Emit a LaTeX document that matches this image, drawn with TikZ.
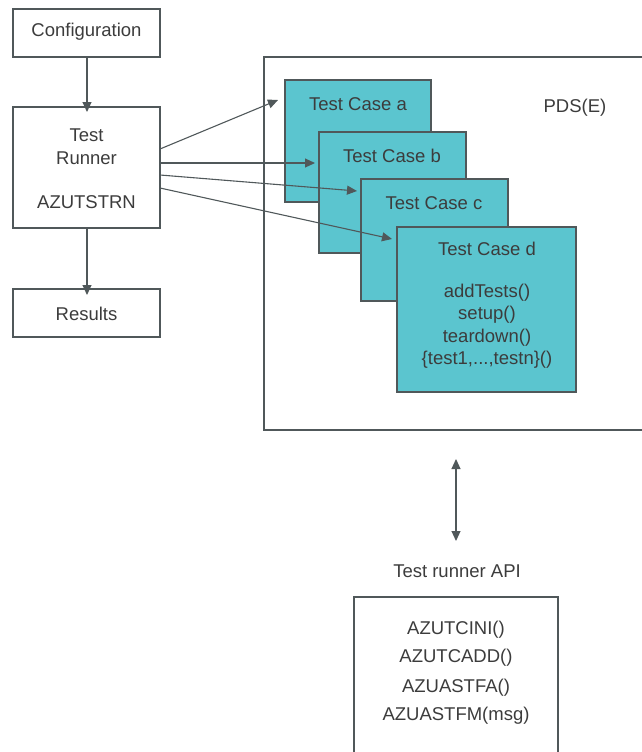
\documentclass[tikz,border=0pt]{standalone}
\usepackage{fontspec}
\setmainfont{Liberation Sans}
\usetikzlibrary{arrows.meta}
\definecolor{tcfill}{HTML}{5BC5CF}
\definecolor{lncol}{HTML}{50585A}
\definecolor{txcol}{HTML}{3C3C3C}
\begin{document}
\begin{tikzpicture}[x=1pt,y=-1pt,
  font=\fontsize{18.5}{22.5}\selectfont,
  every node/.style={text=txcol},
  plainbox/.style={draw=lncol,line width=1.2pt,fill=white},
  casebox/.style={draw=lncol,line width=1.2pt,fill=tcfill},
  arr/.style={draw=lncol,line width=1.1pt,-{Triangle[length=10pt,width=9pt]}},
  lbl/.style={inner sep=0pt,align=center}]
\useasboundingbox (0,0) rectangle (642,752);
% left column
\draw[plainbox] (13,9) rectangle (160,57);
\node[lbl] (conf) at (86.5,32) {Configuration};
\coordinate (confb) at (87,57);
\draw[plainbox] (13,107) rectangle (160,228);
\node[lbl] (runner1) at (86.5,135) {Test};
\node[lbl] (runner2) at (86.5,158) {Runner};
\node[lbl] (runner3) at (86.5,202) {AZUTSTRN};
\coordinate (runt) at (87,107);
\coordinate (runb) at (87,228);
\draw[plainbox] (13,289) rectangle (160,337);
\node[lbl] (res) at (86.5,314) {Results};
\coordinate (rest) at (87,289);
\draw[arr] (confb) -- ([yshift=-5pt]runt);
\draw[arr] (runb) -- ([yshift=-6pt]rest);
% PDS(E) container
\draw[draw=lncol,line width=1.2pt] (645,57) -- (264,57) -- (264,430) -- (645,430);
\node[lbl] (pds) at (575,108) {PDS(E)};
% test cases
\draw[casebox] (285,80) rectangle (431,202);
\node[lbl] (tca) at (358,104) {Test Case a};
\draw[casebox] (319,132) rectangle (466,253);
\node[lbl] (tcb) at (392,156) {Test Case b};
\draw[casebox] (361,179) rectangle (508,301);
\node[lbl] (tcc) at (434,203) {Test Case c};
\draw[casebox] (397,227) rectangle (576,392);
\node[lbl] (tcd) at (487,249) {Test Case d};
\node[lbl] (tcdm) at (487,326) {addTests()\\setup()\\teardown()\\\{test1,...,testn\}()};
% arrows from runner
\coordinate (s1) at (160,149);
\coordinate (s2) at (160,163);
\coordinate (s3) at (160,175);
\coordinate (s4) at (160,188);
\coordinate (e1) at (278,100);
\coordinate (e2) at (315,163);
\coordinate (e3) at (357,191);
\coordinate (e4) at (392,239);
\draw[arr] (s1) -- (e1);
\draw[arr] (s2) -- (e2);
\draw[arr] (s3) -- (e3);
\draw[arr] (s4) -- (e4);
% API
\coordinate (bt) at (456,459);
\coordinate (bb) at (456,541);
\draw[draw=lncol,line width=1.1pt,{Triangle[length=10pt,width=9pt]}-{Triangle[length=10pt,width=9pt]}] (bt) -- (bb);
\node[lbl] (apilbl) at (457,571) {Test runner API};
\draw[draw=lncol,line width=1.2pt] (354,760) -- (354,597) -- (558,597) -- (558,760);
\node[lbl] (f1) at (456,630) {AZUTCINI()};
\node[lbl] (f2) at (456,658) {AZUTCADD()};
\node[lbl] (f3) at (456,688) {AZUASTFA()};
\node[lbl] (f4) at (456,716) {AZUASTFM(msg)};
\end{tikzpicture}
\end{document}
